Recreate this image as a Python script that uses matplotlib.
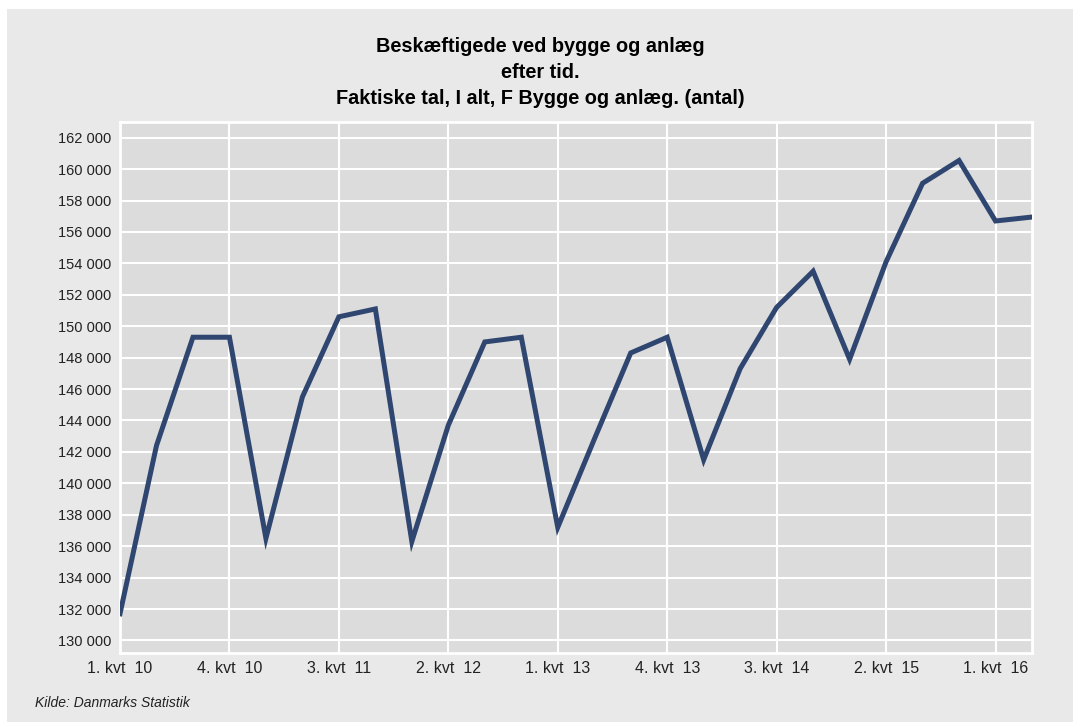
import numpy as np
import matplotlib
matplotlib.use("Agg")
from matplotlib import pyplot as plt
from matplotlib.patches import Rectangle
from matplotlib.ticker import FuncFormatter

# data (quarters 1. kvt 2010 .. 2. kvt 2016)
quarters = ["%d. kvt  %02d" % (q, y) for y in range(10, 17) for q in range(1, 5)][:26]
employed = [131700, 142400, 149300, 149300, 136500, 145500, 150600, 151100,
            136300, 143700, 149000, 149300, 137200, 142800, 148300, 149300,
            141500, 147300, 151200, 153500, 147900, 154100, 159100, 160550,
            156700, 156950]
title_lines = ["Beskæftigede ved bygge og anlæg",
               "efter tid.",
               "Faktiske tal, I alt, F Bygge og anlæg. (antal)"]
source = "Kilde: Danmarks Statistik"

plt.rcParams['font.family'] = ['Liberation Sans', 'DejaVu Sans']

fig = plt.figure(figsize=(10.73, 7.22), dpi=100, facecolor="white")
bg = Rectangle((7/1073., 0), 1, 1 - 9/722., transform=fig.transFigure,
               facecolor="#e9e9e9", edgecolor="none", zorder=-10)
fig.patches.append(bg)

ax = fig.add_axes([120/1073., 69/722., 912/1073., 531/722.])
ax.set_facecolor("#dcdcdc")

x = np.arange(len(employed))
ax.plot(x, employed, color="#2f4670", linewidth=3.6, solid_joinstyle="miter", zorder=3)

ax.set_xlim(0, 25)
ax.set_ylim(129200, 163000)
ax.set_yticks(np.arange(130000, 162001, 2000))
ax.yaxis.set_major_formatter(FuncFormatter(lambda v, p: "{:,}".format(int(v)).replace(",", " ")))
ax.set_xticks(x[::3])
ax.set_xticklabels(quarters[::3])

ax.grid(True, color="white", linewidth=1.5)
ax.set_axisbelow(True)
for s in ax.spines.values():
    s.set_color("white")
    s.set_linewidth(2)
ax.tick_params(length=0, colors="#222222", pad=6)
ax.tick_params(axis="y", labelsize=10.5)
ax.tick_params(axis="x", labelsize=11.5)

tops = [47, 72, 98]
for t, yy in zip(title_lines, tops):
    fig.text(540/1073., 1 - yy/722., t, ha="center", va="center",
             fontsize=14.3, fontweight="bold", color="black")

fig.text(35/1073., 1 - 703/722., source, ha="left", va="center",
         fontsize=10, style="italic", color="#222222")

plt.savefig("out.png", dpi=100, facecolor=fig.get_facecolor())
